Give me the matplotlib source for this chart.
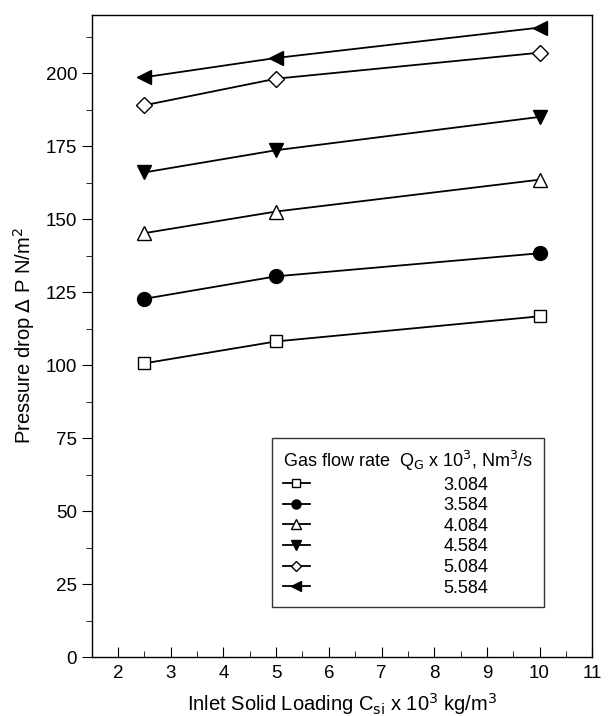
import matplotlib
matplotlib.use("Agg")
import matplotlib.pyplot as plt
from matplotlib.ticker import MultipleLocator

plt.rcParams['font.family'] = ['Liberation Sans', 'DejaVu Sans']

x = [2.5, 5, 10]
labels = ["3.084", "3.584", "4.084", "4.584", "5.084", "5.584"]
s1 = [100.6, 108.1, 116.7]
s2 = [122.7, 130.4, 138.3]
s3 = [145.2, 152.6, 163.5]
s4 = [166.0, 173.6, 185.0]
s5 = [189.0, 198.1, 207.0]
s6 = [198.6, 205.2, 215.6]
series = [s1, s2, s3, s4, s5, s6]
markers = ['s', 'o', '^', 'v', 'D', '<']
fills = ['white', 'black', 'white', 'black', 'white', 'black']
sizes = [9, 10, 10, 10, 8, 10]

fig = plt.figure(figsize=(6.08, 7.16), dpi=100)
ax = fig.add_axes([0.151, 0.0824, 0.823, 0.897])

for ys, m, fc, ms, lab in zip(series, markers, fills, sizes, labels):
    ax.plot(x, ys, color='black', lw=1.3, marker=m, markersize=ms,
            markerfacecolor=fc, markeredgecolor='black', markeredgewidth=1.0,
            label=lab)

ax.set_xlim(1.5, 11)
ax.set_ylim(0, 220)
ax.xaxis.set_major_locator(MultipleLocator(1))
ax.xaxis.set_minor_locator(MultipleLocator(0.5))
ax.yaxis.set_major_locator(MultipleLocator(25))
ax.yaxis.set_minor_locator(MultipleLocator(12.5))
ax.tick_params(axis='x', which='major', direction='in', length=7, labelsize=13.5, pad=6)
ax.tick_params(axis='x', which='minor', direction='in', length=4)
ax.tick_params(axis='y', which='major', direction='out', length=7, labelsize=13.5)
ax.tick_params(axis='y', which='minor', direction='out', length=4)
ax.set_xticks(range(2, 12))

for sp in ax.spines.values():
    sp.set_linewidth(1.0)

ax.set_xlabel(r"Inlet Solid Loading C$_{\rm si}$ x 10$^3$ kg/m$^3$", fontsize=14.5, labelpad=6)
ax.set_ylabel(r"Pressure drop $\Delta$ P N/m$^2$", fontsize=14.5, labelpad=6)

leg = ax.legend(loc='upper left', bbox_to_anchor=(0.36, 0.341), borderaxespad=0,
                title=r"Gas flow rate  Q$_{\rm G}$ x 10$^3$, Nm$^3$/s",
                fontsize=13, title_fontsize=13, frameon=True, fancybox=False,
                edgecolor='black', handlelength=1.5, handletextpad=7.4,
                labelspacing=0.2, borderpad=0.6, markerscale=0.65)
leg.get_frame().set_linewidth(1.0)
leg._legend_box.align = "left"
for line in leg.get_lines():
    line.set_linewidth(1.3)

fig.savefig("out.png", dpi=100)
